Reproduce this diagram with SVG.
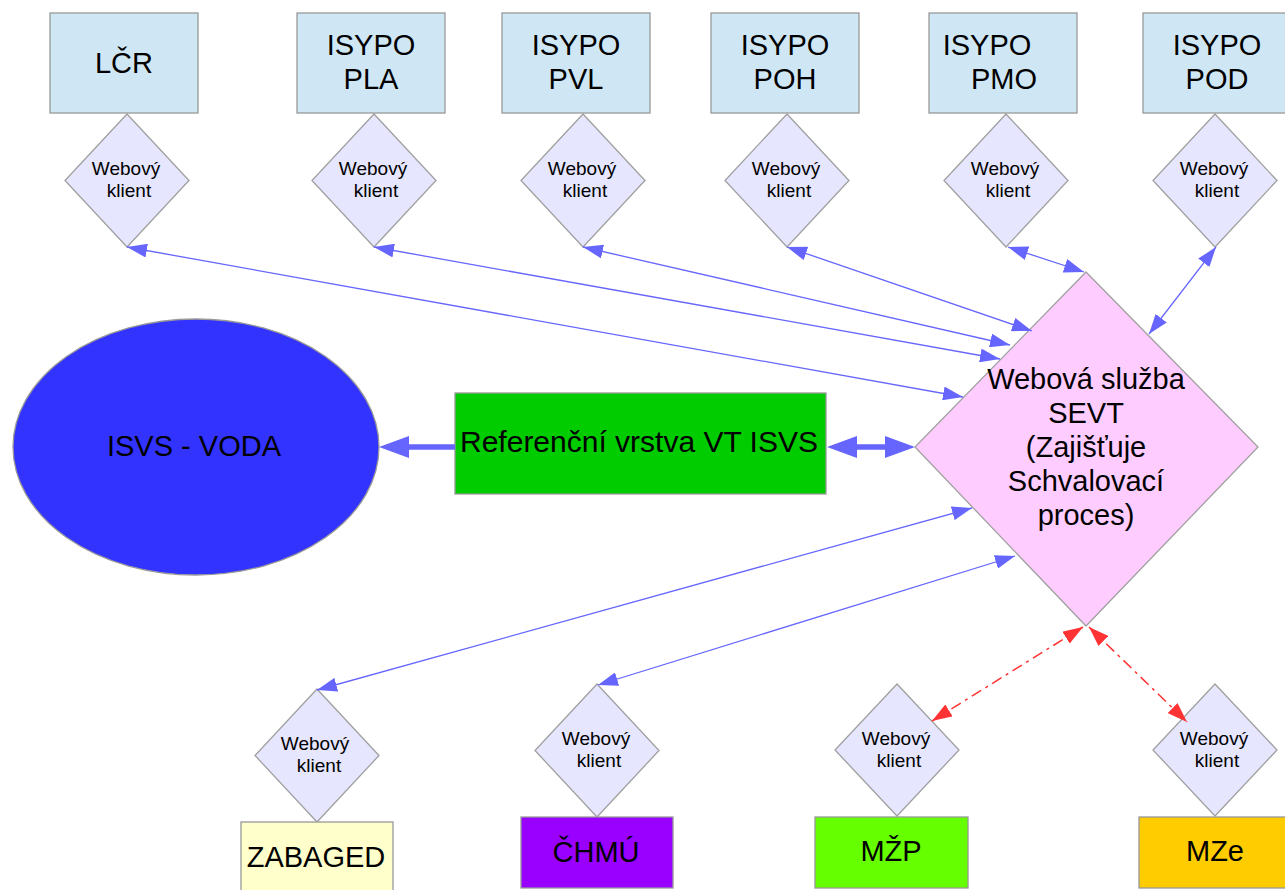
<svg xmlns="http://www.w3.org/2000/svg" width="1285" height="890" viewBox="0 0 1285 890">
<style>
text{font-family:"Liberation Sans",Arial,sans-serif;fill:#000;text-anchor:middle}
.big{font-size:29px}
.sm{font-size:19px}
.sys{fill:#cfe7f5;stroke:#999;stroke-width:1.3}
.cl{fill:#e6e6ff;stroke:#a0a0a0;stroke-width:1.3}
.bl{stroke:#6666ff;stroke-width:1.3;fill:none;marker-start:url(#ah);marker-end:url(#ah)}
.rd{stroke:#ff3333;stroke-width:1.5;fill:none;stroke-dasharray:11 5 3 5;marker-start:url(#ahr);marker-end:url(#ahr)}
.th{stroke:#6666ff;stroke-width:5.5;fill:none}
</style>
<defs>
<marker id="ah" markerUnits="userSpaceOnUse" viewBox="0 0 20 14" markerWidth="20" markerHeight="14" refX="20" refY="7" orient="auto-start-reverse"><path d="M0,0 L20,7 L0,14 z" fill="#6666ff"/></marker>
<marker id="ahr" markerUnits="userSpaceOnUse" viewBox="0 0 20 14" markerWidth="20" markerHeight="14" refX="20" refY="7" orient="auto-start-reverse"><path d="M0,0 L20,7 L0,14 z" fill="#ff3333"/></marker>
<marker id="aht" markerUnits="userSpaceOnUse" viewBox="0 0 30 22" markerWidth="30" markerHeight="22" refX="21" refY="11" orient="auto-start-reverse"><path d="M0,0 L30,11 L0,22 z" fill="#6666ff"/></marker>
</defs>
<rect width="1285" height="890" fill="#fff"/>

<g id="lcr"><rect class="sys" x="50" y="13" width="148" height="100"/><text class="big" x="124" y="73">LČR</text></g>
<g id="pla"><rect class="sys" x="297" y="13" width="148" height="100"/><text class="big" x="371" y="55">ISYPO</text><text class="big" x="371" y="89">PLA</text></g>
<g id="pvl"><rect class="sys" x="502" y="13" width="148" height="100"/><text class="big" x="576" y="55">ISYPO</text><text class="big" x="576" y="89">PVL</text></g>
<g id="poh"><rect class="sys" x="711" y="13" width="148" height="100"/><text class="big" x="785" y="55">ISYPO</text><text class="big" x="785" y="89">POH</text></g>
<g id="pmo"><rect class="sys" x="929" y="13" width="148" height="100"/><text class="big" x="987" y="55">ISYPO</text><text class="big" x="1004" y="89">PMO</text></g>
<g id="pod"><rect class="sys" x="1143" y="13" width="148" height="100"/><text class="big" x="1217" y="55">ISYPO</text><text class="big" x="1217" y="89">POD</text></g>

<g id="wk-lcr"><path class="cl" d="M127,114 L189,180.5 L127,247 L65,180.5 z"/><text class="sm" x="126" y="175">Webový</text><text class="sm" x="129" y="197">klient</text></g>
<g id="wk-pla"><path class="cl" d="M374,114 L436,180.5 L374,247 L312,180.5 z"/><text class="sm" x="373" y="175">Webový</text><text class="sm" x="376" y="197">klient</text></g>
<g id="wk-pvl"><path class="cl" d="M583,114 L645,180.5 L583,247 L521,180.5 z"/><text class="sm" x="582" y="175">Webový</text><text class="sm" x="585" y="197">klient</text></g>
<g id="wk-poh"><path class="cl" d="M787,114 L849,180.5 L787,247 L725,180.5 z"/><text class="sm" x="786" y="175">Webový</text><text class="sm" x="789" y="197">klient</text></g>
<g id="wk-pmo"><path class="cl" d="M1006,114 L1068,180.5 L1006,247 L944,180.5 z"/><text class="sm" x="1005" y="175">Webový</text><text class="sm" x="1008" y="197">klient</text></g>
<g id="wk-pod"><path class="cl" d="M1215,114 L1277,180.5 L1215,247 L1153,180.5 z"/><text class="sm" x="1214" y="175">Webový</text><text class="sm" x="1217" y="197">klient</text></g>

<g id="isvs-voda"><ellipse cx="196" cy="447" rx="183" ry="128" fill="#3333ff" stroke="#999" stroke-width="1.3"/><text class="big" x="194" y="456">ISVS - VODA</text></g>
<g id="ref-vrstva"><rect x="455" y="393" width="371" height="101" fill="#00cc00" stroke="#999" stroke-width="1.3"/><text class="big" x="639" y="452" textLength="358" lengthAdjust="spacingAndGlyphs">Referenční vrstva VT ISVS</text></g>
<g id="sevt"><path d="M1086,272 L1258,447 L1086,626 L915,447 z" fill="#ffccff" stroke="#a0a0a0" stroke-width="1.3"/>
<text class="big" x="1086" y="389">Webová služba</text>
<text class="big" x="1086" y="423">SEVT</text>
<text class="big" x="1086" y="457">(Zajišťuje</text>
<text class="big" x="1086" y="491">Schvalovací</text>
<text class="big" x="1086" y="525">proces)</text></g>

<g id="wk-zabaged"><path class="cl" d="M317,689 L379,755.5 L317,822 L255,755.5 z"/><text class="sm" x="315" y="750">Webový</text><text class="sm" x="319" y="772">klient</text></g>
<g id="wk-chmu"><path class="cl" d="M597,684 L659,750.5 L597,817 L535,750.5 z"/><text class="sm" x="596" y="745">Webový</text><text class="sm" x="599" y="767">klient</text></g>
<g id="wk-mzp"><path class="cl" d="M897,684 L959,750 L897,816 L835,750 z"/><text class="sm" x="896" y="745">Webový</text><text class="sm" x="899" y="767">klient</text></g>
<g id="wk-mze"><path class="cl" d="M1215,684 L1277,750 L1215,816 L1153,750 z"/><text class="sm" x="1214" y="745">Webový</text><text class="sm" x="1217" y="767">klient</text></g>

<g id="zabaged"><rect x="241" y="822" width="152" height="80" fill="#ffffcc" stroke="#999" stroke-width="1.3"/><text class="big" x="316" y="867">ZABAGED</text></g>
<g id="chmu"><rect x="521" y="817" width="152" height="71" fill="#9900ff" stroke="#999" stroke-width="1.3"/><text class="big" x="596" y="862">ČHMÚ</text></g>
<g id="mzp"><rect x="815" y="817" width="153" height="71" fill="#66ff00" stroke="#999" stroke-width="1.3"/><text class="big" x="891" y="861">MŽP</text></g>
<g id="mze"><rect x="1139" y="817" width="150" height="71" fill="#ffcc00" stroke="#999" stroke-width="1.3"/><text class="big" x="1215" y="861">MZe</text></g>

<g id="connectors">
<line class="bl" x1="127" y1="247" x2="963" y2="397"/>
<line class="bl" x1="374" y1="247" x2="1000" y2="359"/>
<line class="bl" x1="583" y1="247" x2="1010" y2="345"/>
<line class="bl" x1="787" y1="247" x2="1032" y2="331"/>
<line class="bl" x1="1008" y1="247" x2="1084" y2="272"/>
<line class="bl" x1="1216" y1="247" x2="1149" y2="334"/>
<line class="bl" x1="972" y1="508" x2="317" y2="690"/>
<line class="bl" x1="1015" y1="556" x2="598" y2="685"/>
<line class="rd" x1="1083" y1="627" x2="932" y2="721"/>
<line class="rd" x1="1089" y1="627" x2="1187" y2="722"/>
<line class="th" x1="455" y1="447" x2="388" y2="447" marker-end="url(#aht)"/>
<line class="th" x1="836" y1="447" x2="906" y2="447" marker-start="url(#aht)" marker-end="url(#aht)"/>
</g>
</svg>
